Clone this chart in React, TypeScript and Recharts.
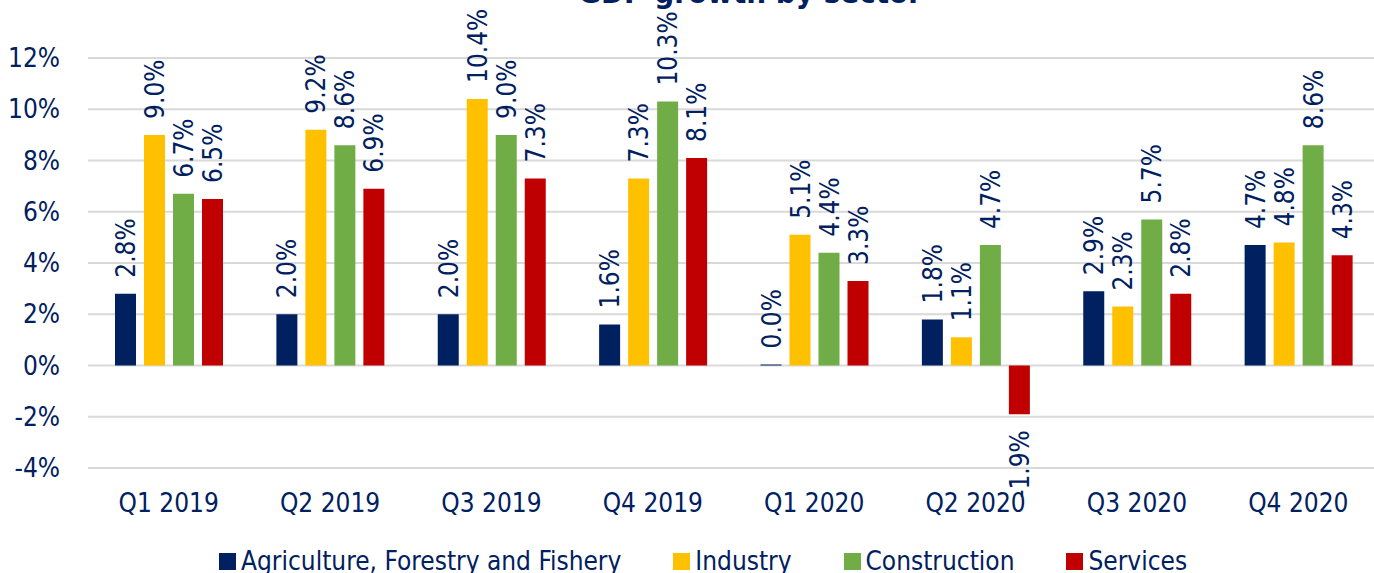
import React from 'react';
import { BarChart, Bar, XAxis, YAxis, CartesianGrid, Legend, LabelList } from 'recharts';

const categories = ['Q1 2019', 'Q2 2019', 'Q3 2019', 'Q4 2019', 'Q1 2020', 'Q2 2020', 'Q3 2020', 'Q4 2020'];
const agriculture = [2.8, 2.0, 2.0, 1.6, 0.0, 1.8, 2.9, 4.7];
const industry = [9.0, 9.2, 10.4, 7.3, 5.1, 1.1, 2.3, 4.8];
const construction = [6.7, 8.6, 9.0, 10.3, 4.4, 4.7, 5.7, 8.6];
const services = [6.5, 6.9, 7.3, 8.1, 3.3, -1.9, 2.8, 4.3];
const yTicks = [-4, -2, 0, 2, 4, 6, 8, 10, 12];
const title = 'GDP growth by sector';

const seriesDefs = [
  { key: 'agriculture', name: 'Agriculture, Forestry and Fishery', color: '#002060', values: agriculture },
  { key: 'industry', name: 'Industry', color: '#FFC000', values: industry },
  { key: 'construction', name: 'Construction', color: '#70AD47', values: construction },
  { key: 'services', name: 'Services', color: '#C00000', values: services },
];

const data = categories.map((c, i) => {
  const row: Record<string, any> = { category: c };
  seriesDefs.forEach((s) => { row[s.key] = s.values[i]; });
  return row;
});

const FONT = "'DejaVu Sans Condensed', 'DejaVu Sans', sans-serif";
const TEXT = '#002060';
const FS = 26;

const renderLabel = (props: any) => {
  const vb = props.viewBox || {};
  const x = Number(vb.x ?? props.x);
  const y = Number(vb.y ?? props.y);
  const width = Number(vb.width ?? props.width);
  const height = Number(vb.height ?? props.height);
  const v = Number(props.value);
  const cx = x + width / 2 + 9.5;
  const top = Math.min(y, y + height);
  const bottom = Math.max(y, y + height);
  const txt = `${v.toFixed(1)}%`;
  if (v >= 0) {
    const y0 = top - 16;
    return (
      <text x={cx} y={y0} transform={`rotate(-90 ${cx} ${y0})`} textAnchor="start" fill={TEXT} fontSize={FS} fontFamily={FONT}>
        {txt}
      </text>
    );
  }
  const y0 = bottom + 16;
  return (
    <text x={cx} y={y0} transform={`rotate(-90 ${cx} ${y0})`} textAnchor="end" fill={TEXT} fontSize={FS} fontFamily={FONT}>
      {txt}
    </text>
  );
};

const renderLegend = () => (
  <div style={{ display: 'flex', alignItems: 'center', paddingLeft: 219, fontFamily: FONT, fontSize: FS, lineHeight: '30px', color: TEXT, whiteSpace: 'nowrap' }}>
    {seriesDefs.map((s) => (
      <div key={s.key} style={{ display: 'flex', alignItems: 'center', marginRight: 52 }}>
        <span style={{ display: 'inline-block', width: 17, height: 17, background: s.color, marginRight: 5 }} />
        <span>{s.name}</span>
      </div>
    ))}
  </div>
);

export default function App() {
  return (
    <div style={{ position: 'absolute', left: 0, top: 0, width: 1374, height: 573, overflow: 'hidden', background: '#fff' }}>
      <BarChart
        width={1380}
        height={573}
        data={data}
        margin={{ top: 58, right: 1, bottom: 55, left: 0 }}
        barSize={21}
        barGap={8}
      >
        <text x={750} y={3} textAnchor="middle" fill={TEXT} fontSize={31} fontWeight="bold" fontFamily={FONT}>
          {title}
        </text>
        <CartesianGrid vertical={false} stroke="#D9D9D9" strokeWidth={2} />
        <XAxis
          dataKey="category"
          axisLine={false}
          tickLine={false}
          tickSize={0}
          tickMargin={26}
          height={50}
          interval={0}
          tick={{ fill: TEXT, fontSize: FS, fontFamily: FONT }}
        />
        <YAxis
          domain={[-4, 12]}
          ticks={yTicks}
          width={88}
          axisLine={false}
          tickLine={false}
          tickSize={0}
          tickMargin={28}
          tickFormatter={(v: number) => `${v}%`}
          tick={{ fill: TEXT, fontSize: FS, fontFamily: FONT }}
        />
        <Legend
          layout="horizontal"
          verticalAlign="middle"
          align="center"
          wrapperStyle={{ left: 0, top: 546, width: 1380 }}
          content={renderLegend}
        />
        {seriesDefs.map((s) => (
          <Bar key={s.key} dataKey={s.key} name={s.name} fill={s.color} minPointSize={1} isAnimationActive={false}>
            <LabelList dataKey={s.key} content={renderLabel} />
          </Bar>
        ))}
      </BarChart>
    </div>
  );
}
